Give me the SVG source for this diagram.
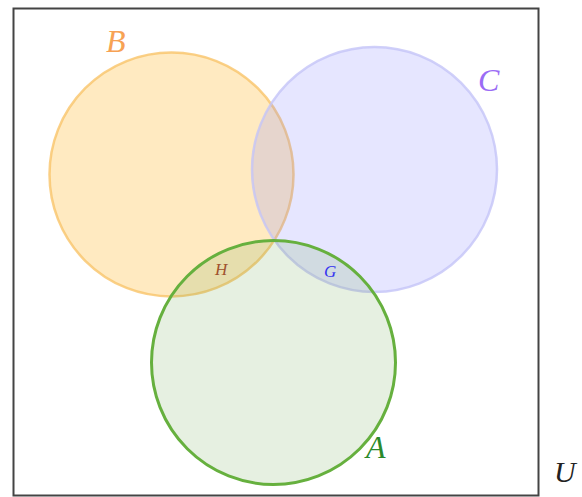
<svg xmlns="http://www.w3.org/2000/svg" width="582" height="497" viewBox="0 0 582 497">
<style>
.lbl{font-family:"Liberation Serif","DejaVu Serif",serif;font-style:italic}
</style>
<rect width="582" height="497" fill="#ffffff"/>
<g id="universe">
<rect x="13.5" y="8.5" width="525" height="487" fill="none" stroke="#444444" stroke-width="2"/>
<text class="lbl" x="554" y="482" font-size="30" fill="#222222">U</text>
</g>
<g id="setB">
<circle cx="171.5" cy="174.5" r="122" fill="#ffb833" fill-opacity="0.3" stroke="#f9c46a" stroke-width="2.5" stroke-opacity="0.8"/>
<text class="lbl" x="106" y="52" font-size="32" fill="#f7a254">B</text>
</g>
<g id="setC">
<circle cx="374.5" cy="169.5" r="122.5" fill="#8080ff" fill-opacity="0.2" stroke="#c4c4f7" stroke-width="2.5" stroke-opacity="0.8"/>
<text class="lbl" x="478" y="91" font-size="32" fill="#9b6cf5">C</text>
</g>
<g id="setA">
<circle cx="273.5" cy="362.5" r="122" fill="#6aa84f" fill-opacity="0.17" stroke="#66b03e" stroke-width="3"/>
<text class="lbl" x="366" y="458" font-size="32" fill="#2b8a2b">A</text>
</g>
<g id="regionH">
<text class="lbl" x="215" y="275" font-size="17" fill="#a0522d">H</text>
</g>
<g id="regionG">
<text class="lbl" x="324" y="277" font-size="17" fill="#3535f0">G</text>
</g>
</svg>
